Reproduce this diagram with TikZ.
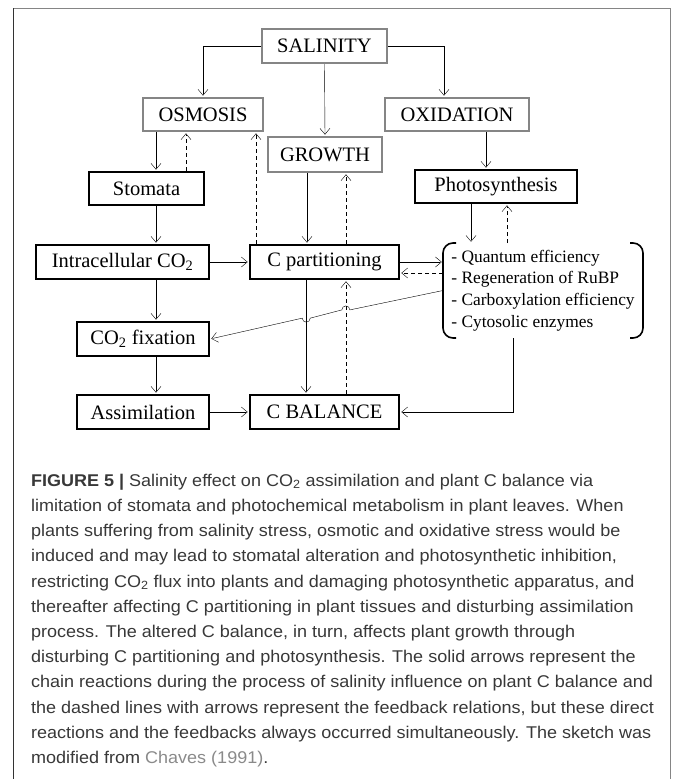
\documentclass[tikz,border=0pt]{standalone}
\usepackage{fontspec}
\setmainfont{Liberation Serif}
\newfontfamily\capfont{Liberation Sans}[FakeStretch=1.06]
\usepackage{tikz}
\usetikzlibrary{arrows.meta, calc, positioning}

\definecolor{boxgray}{HTML}{858585}
\definecolor{captext}{HTML}{383838}
\definecolor{citegray}{HTML}{8A8A8A}

\begin{document}
\begin{tikzpicture}[x=1pt, y=-1pt]
	\tikzset {>={Straight Barb[length=6pt, width=10pt]}, line width=2pt, every node/.style={font=\fontsize{20.5pt}{24pt}\selectfont, inner sep=0pt},
		stress/.style={draw=boxgray, line width=2.2pt},
		proc/.style={draw, line width=2.2pt},
		fb/.style={->, dash pattern=on 4pt off 3pt} }

	\useasboundingbox (0,0) rectangle (672,779);
	\draw[boxgray, line width=1pt] (13.5,8) -- (670.5,8) -- (670.5,779);
	\draw[black!80, line width=1.5pt] (13.5,779) -- (13.5,8);

	\node[stress, minimum width=125pt, minimum height=34pt] (sal) at (324.5,46) {SALINITY};
	\node[stress, minimum width=120pt, minimum height=33pt] (osm) at (203,114.5) {OSMOSIS};
	\node[stress, minimum width=144pt, minimum height=33pt] (oxi) at (457,114.5) {OXIDATION};
	\node[stress, minimum width=114pt, minimum height=35pt] (grow) at (325,154.5) {GROWTH};
	\node[proc, minimum width=115pt, minimum height=33pt] (stom) at (146.5,188.5) {Stomata};
	\node[proc, minimum width=162pt, minimum height=33pt] (photo) at (496,186.5) {Photosynthesis};
	\node[proc, minimum width=173pt, minimum height=34pt] (intra) at (122.5,262) {Intracellular CO\textsubscript{2}};
	\node[proc, minimum width=149pt, minimum height=34pt] (cpart) at (324.5,262) {C partitioning};
	\node[minimum width=198pt, minimum height=93pt, align=left, font=\fontsize{17.4pt}{21.7pt}\selectfont] (enz) at (543,290.5)
		{- Quantum efficiency\\- Regeneration of RuBP\\- Carboxylation efficiency\\- Cytosolic enzymes};
	\node[proc, minimum width=132pt, minimum height=34pt] (fix) at (143,339) {CO\textsubscript{2} fixation};
	\node[proc, minimum width=132pt, minimum height=34pt] (assim) at (143,412) {Assimilation};
	\node[proc, minimum width=149pt, minimum height=34pt] (cbal) at (324.5,412) {C BALANCE};

	% brackets round the list
	\draw[line width=1.6pt, rounded corners=10pt] ([xshift=13pt]enz.north west) -- (enz.north west) -- (enz.south west) -- ([xshift=13pt]enz.south west);
	\draw[line width=1.6pt, rounded corners=10pt] ([xshift=-13pt]enz.north east) -- (enz.north east) -- (enz.south east) -- ([xshift=-13pt]enz.south east);

	% chain reactions
	\draw[->] (sal.west) -| (osm.north);
	\draw[->] (sal.east) -| ([xshift=-13pt]oxi.north);
	\draw[->] (sal.south) -- (grow.north);
	\draw[->] ([xshift=-47pt]osm.south) -- ([xshift=-47pt]osm.south |- stom.north);
	\draw[->] ([xshift=-18pt]grow.south) -- ([xshift=-18pt]grow.south |- cpart.north);
	\draw[->] ([xshift=29pt]oxi.south) -- ([xshift=29pt]oxi.south |- photo.north);
	\draw[->] ([xshift=-25pt]photo.south) -- ([xshift=-25pt]photo.south |- enz.north);
	\draw[->] ([xshift=9.5pt]stom.south) -- ([xshift=9.5pt]stom.south |- intra.north);
	\draw[->] (intra) -- (cpart);
	\draw[->] (cpart.east) -- (cpart.east -| enz.west);
	\draw[->] ([xshift=13pt]fix.north |- intra.south) -- ([xshift=13pt]fix.north);
	\draw[->] ([xshift=13pt]fix.south) -- ([xshift=13pt]assim.north);
	\draw[->] (assim) -- (cbal);
	\draw[->] ([xshift=-18.5pt]cpart.south) -- ([xshift=-18.5pt]cbal.north);
	\draw[->] ([xshift=-30pt]enz.south) |- (cbal.east);
	\draw[->] (enz.west) -- ($(enz.west)!0.400!(fix.east)$) arc[start angle=0, end angle=180, radius=4pt]
		-- ($(enz.west)!0.570!(fix.east)$) arc[start angle=0, end angle=-180, radius=4pt] -- (fix.east);

	% feedbacks
	\draw[fb] ([xshift=-17pt]osm.south |- stom.north) -- ([xshift=-17pt]osm.south);
	\draw[fb] ([xshift=53pt]osm.south |- cpart.north) -- ([xshift=53pt]osm.south);
	\draw[fb] ([xshift=21pt]grow.south |- cpart.north) -- ([xshift=21pt]grow.south);
	\draw[fb] ([xshift=11pt]photo.south |- enz.north) -- ([xshift=11pt]photo.south);
	\draw[fb] ([yshift=-11pt]cpart.east -| enz.west) -- ([yshift=-11pt]cpart.east);
	\draw[fb] ([xshift=21.5pt]cbal.north) -- ([xshift=21.5pt]cpart.south);

	\node[anchor=north west, align=left, text=captext, font=\capfont\fontsize{17pt}{25.2pt}\selectfont] (cap) at (30,473)
		{\textbf{FIGURE 5 |} Salinity effect on CO\textsubscript{2} assimilation and plant C balance via\\
		limitation of stomata and photochemical metabolism in plant leaves. When\\
		plants suffering from salinity stress, osmotic and oxidative stress would be\\
		induced and may lead to stomatal alteration and photosynthetic inhibition,\\
		restricting CO\textsubscript{2} flux into plants and damaging photosynthetic apparatus, and\\
		thereafter affecting C partitioning in plant tissues and disturbing assimilation\\
		process. The altered C balance, in turn, affects plant growth through\\
		disturbing C partitioning and photosynthesis. The solid arrows represent the\\
		chain reactions during the process of salinity influence on plant C balance and\\
		the dashed lines with arrows represent the feedback relations, but these direct\\
		reactions and the feedbacks always occurred simultaneously. The sketch was\\
		modified from \textcolor{citegray}{Chaves (1991)}.};
\end{tikzpicture}
\end{document}
